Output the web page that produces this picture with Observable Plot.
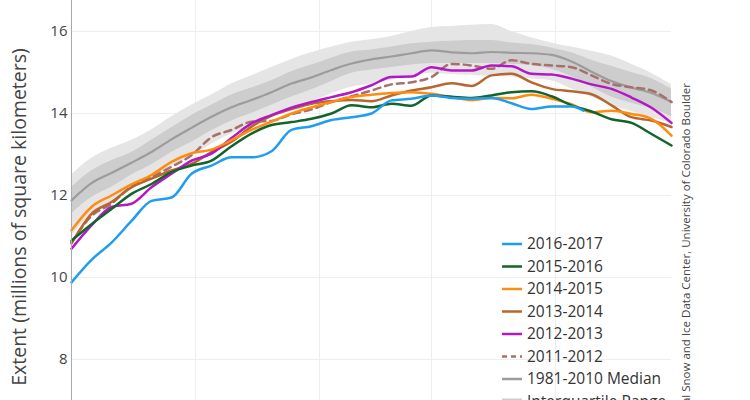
<!DOCTYPE html>
<html><head><meta charset="utf-8">
<script src="https://cdn.jsdelivr.net/npm/d3@7"></script>
<script src="https://cdn.jsdelivr.net/npm/@observablehq/plot@0.6"></script>
<style>body{margin:0;background:#fff;font-family:"Open Sans",sans-serif}#chart{width:750px;height:400px;overflow:hidden}</style>
</head><body><div id="chart"></div>
<script>
// ---- data (million km²), sampled every 5 days from 1 Dec ----
const startDate = "2016-12-01";
const endDate = "2017-04-30";
const days = [0,5,10,15,20,25,30,35,40,45,50,55,60,65,70,75,80,85,90,95,100,105,110,115,120,125,130,135,140,145,150];
const monthTicks = ["2017-01-01","2017-02-01","2017-03-01","2017-04-01"];
const yTicks = [8,10,12,14,16];

const median = [11.88,12.3,12.55,12.8,13.06,13.37,13.65,13.92,14.15,14.33,14.52,14.73,14.88,15.06,15.22,15.32,15.39,15.47,15.54,15.49,15.47,15.5,15.48,15.47,15.43,15.27,15.02,14.79,14.63,14.5,14.28];
const q75 = [12.2,12.6,12.85,13.05,13.35,13.65,13.95,14.2,14.45,14.62,14.8,15.02,15.18,15.35,15.5,15.55,15.62,15.7,15.74,15.76,15.78,15.78,15.72,15.68,15.6,15.48,15.3,15.15,15.0,14.85,14.6];
const q25 = [11.55,11.95,12.2,12.5,12.75,13.05,13.3,13.58,13.82,14.0,14.2,14.4,14.58,14.78,14.98,15.06,15.12,15.18,15.22,15.22,15.22,15.22,15.2,15.17,15.08,14.9,14.65,14.4,14.25,14.12,13.92];
const p90 = [12.5,12.9,13.15,13.35,13.6,13.92,14.2,14.45,14.72,14.92,15.12,15.32,15.48,15.62,15.74,15.8,15.88,16.0,16.1,16.12,16.15,16.17,16.0,15.85,15.72,15.62,15.52,15.4,15.2,14.98,14.7];
const p10 = [11.0,11.55,11.85,12.15,12.4,12.7,12.95,13.25,13.5,13.68,13.88,14.08,14.28,14.48,14.64,14.72,14.82,14.92,14.98,14.95,14.93,14.9,14.89,14.85,14.8,14.6,14.4,14.2,14.05,13.9,13.75];

const days2016_17 = [0,5,10,15,20,25,30,35,40,45,50,55,60,65,70,75,80,85,90,95,100,105,110,115,120,125,128];
const y2016_17 = [9.88,10.43,10.85,11.38,11.87,11.95,12.53,12.73,12.93,12.93,13.08,13.6,13.69,13.84,13.91,14.0,14.32,14.36,14.44,14.38,14.36,14.38,14.25,14.11,14.17,14.17,14.07];
const y2015_16 = [10.9,11.3,11.67,12.04,12.28,12.57,12.73,12.85,13.2,13.51,13.72,13.79,13.87,14.0,14.2,14.15,14.24,14.19,14.44,14.41,14.38,14.44,14.52,14.54,14.42,14.2,14.05,13.86,13.77,13.5,13.22];
const y2014_15 = [11.15,11.72,12.0,12.27,12.5,12.82,13.03,13.12,13.35,13.6,13.8,14.0,14.15,14.28,14.4,14.46,14.5,14.52,14.48,14.4,14.33,14.38,14.37,14.46,14.36,14.23,14.03,14.07,13.99,13.87,13.46];
const y2013_14 = [10.83,11.55,11.84,12.2,12.41,12.61,12.77,13.06,13.31,13.68,13.95,14.11,14.24,14.3,14.33,14.3,14.44,14.56,14.64,14.74,14.67,14.93,14.97,14.76,14.6,14.54,14.47,14.2,13.91,13.83,13.67];
const y2012_13 = [10.7,11.27,11.72,11.8,12.2,12.53,12.85,13.02,13.4,13.76,13.96,14.14,14.28,14.4,14.52,14.69,14.89,14.9,15.13,15.05,15.05,15.17,15.15,14.97,14.95,14.85,14.71,14.6,14.39,14.14,13.77];
const y2011_12 = [10.85,11.5,11.8,12.22,12.45,12.7,12.98,13.42,13.6,13.8,13.82,13.98,14.1,14.28,14.42,14.56,14.71,14.76,14.89,15.21,15.17,15.09,15.3,15.21,15.17,15.13,14.93,14.72,14.64,14.56,14.28];

const legendLabels = ["2016-2017","2015-2016","2014-2015","2013-2014","2012-2013","2011-2012","1981-2010 Median","Interquartile Range","Interdecile Range"];
const colors = {"2016-2017":"#1f9ef0","2015-2016":"#11652c","2014-2015":"#ff8c10","2013-2014":"#b9652e","2012-2013":"#b418c6","2011-2012":"#a8706a","1981-2010 Median":"#9c9c9c","Interquartile Range":"#cdcdcd","Interdecile Range":"#e5e5e5"};
const yTitle = "Extent (millions of square kilometers)";
const credit = "National Snow and Ice Data Center, University of Colorado Boulder";

// ---- build tables ----
const t0 = new Date(startDate + "T00:00:00Z");
const toDate = d => new Date(t0.getTime() + d * 86400000);
const climo = days.map((d, i) => ({date: toDate(d), median: median[i], q25: q25[i], q75: q75[i], p10: p10[i], p90: p90[i]}));
const seriesDefs = [
  ["2011-2012", days, y2011_12],
  ["2013-2014", days, y2013_14],
  ["2012-2013", days, y2012_13],
  ["2014-2015", days, y2014_15],
  ["2015-2016", days, y2015_16],
  ["2016-2017", days2016_17, y2016_17]
];
const lineMarks = seriesDefs.map(([name, ds, vs]) =>
  Plot.lineY(ds.map((d, i) => ({date: toDate(d), v: vs[i]})), {
    x: "date", y: "v", stroke: colors[name], strokeWidth: 2.5, curve: "monotone-x",
    strokeDasharray: name === "2011-2012" ? "7,5" : null
  })
);

const chart = Plot.plot({
  width: 750, height: 400,
  marginLeft: 71, marginRight: 79, marginTop: 0, marginBottom: 0,
  style: {fontFamily: "'Open Sans', sans-serif", background: "#fff", overflow: "hidden"},
  x: {type: "utc", domain: [new Date(startDate + "T00:00:00Z"), new Date(endDate + "T00:00:00Z")], axis: null},
  y: {domain: [7.0, 16.756], axis: null},
  marks: [
    Plot.gridY(yTicks, {stroke: "#eeeeee", strokeOpacity: 1}),
    Plot.gridX(monthTicks.map(s => new Date(s + "T00:00:00Z")), {stroke: "#eeeeee", strokeOpacity: 1}),
    Plot.areaY(climo, {x: "date", y1: "p10", y2: "p90", fill: colors["Interdecile Range"], curve: "monotone-x"}),
    Plot.areaY(climo, {x: "date", y1: "q25", y2: "q75", fill: colors["Interquartile Range"], curve: "monotone-x"}),
    Plot.lineY(climo, {x: "date", y: "median", stroke: colors["1981-2010 Median"], strokeWidth: 2.2, curve: "monotone-x"}),
    ...lineMarks,
    Plot.ruleX([new Date(startDate + "T00:00:00Z")], {stroke: "#aaaaaa", strokeWidth: 1}),
    Plot.axisY(yTicks, {tickSize: 0, tickPadding: 4, fontSize: 15, fill: "#444444", label: null})
  ]
});
document.getElementById("chart").appendChild(chart);

// ---- titles & legend (real text) ----
const svg = d3.select(chart);
svg.append("text")
  .attr("transform", "translate(26,217) rotate(-90)")
  .attr("text-anchor", "middle")
  .attr("font-size", 19.5).attr("fill", "#444444")
  .text(yTitle);
svg.append("text")
  .attr("transform", "translate(690,83) rotate(-90)")
  .attr("text-anchor", "end")
  .attr("font-size", 11.5).attr("fill", "#444444")
  .text(credit);

const lg = svg.append("g").attr("text-anchor", "start");
legendLabels.forEach((name, i) => {
  const y = 244 + i * 22.5;
  const g = lg.append("g");
  if (name.startsWith("Inter")) {
    g.append("rect").attr("x", 502).attr("y", y - 3).attr("width", 20).attr("height", 7).attr("fill", colors[name]);
  } else {
    g.append("line").attr("x1", 502).attr("x2", 522).attr("y1", y).attr("y2", y)
      .attr("stroke", colors[name]).attr("stroke-width", 2.5)
      .attr("stroke-dasharray", name === "2011-2012" ? "5,4" : null);
  }
  g.append("text").attr("x", 527).attr("y", y).attr("dy", "0.35em")
    .attr("text-anchor", "start")
    .attr("font-size", 15.5).attr("fill", "#333333").text(name);
});
</script>
</body></html>
